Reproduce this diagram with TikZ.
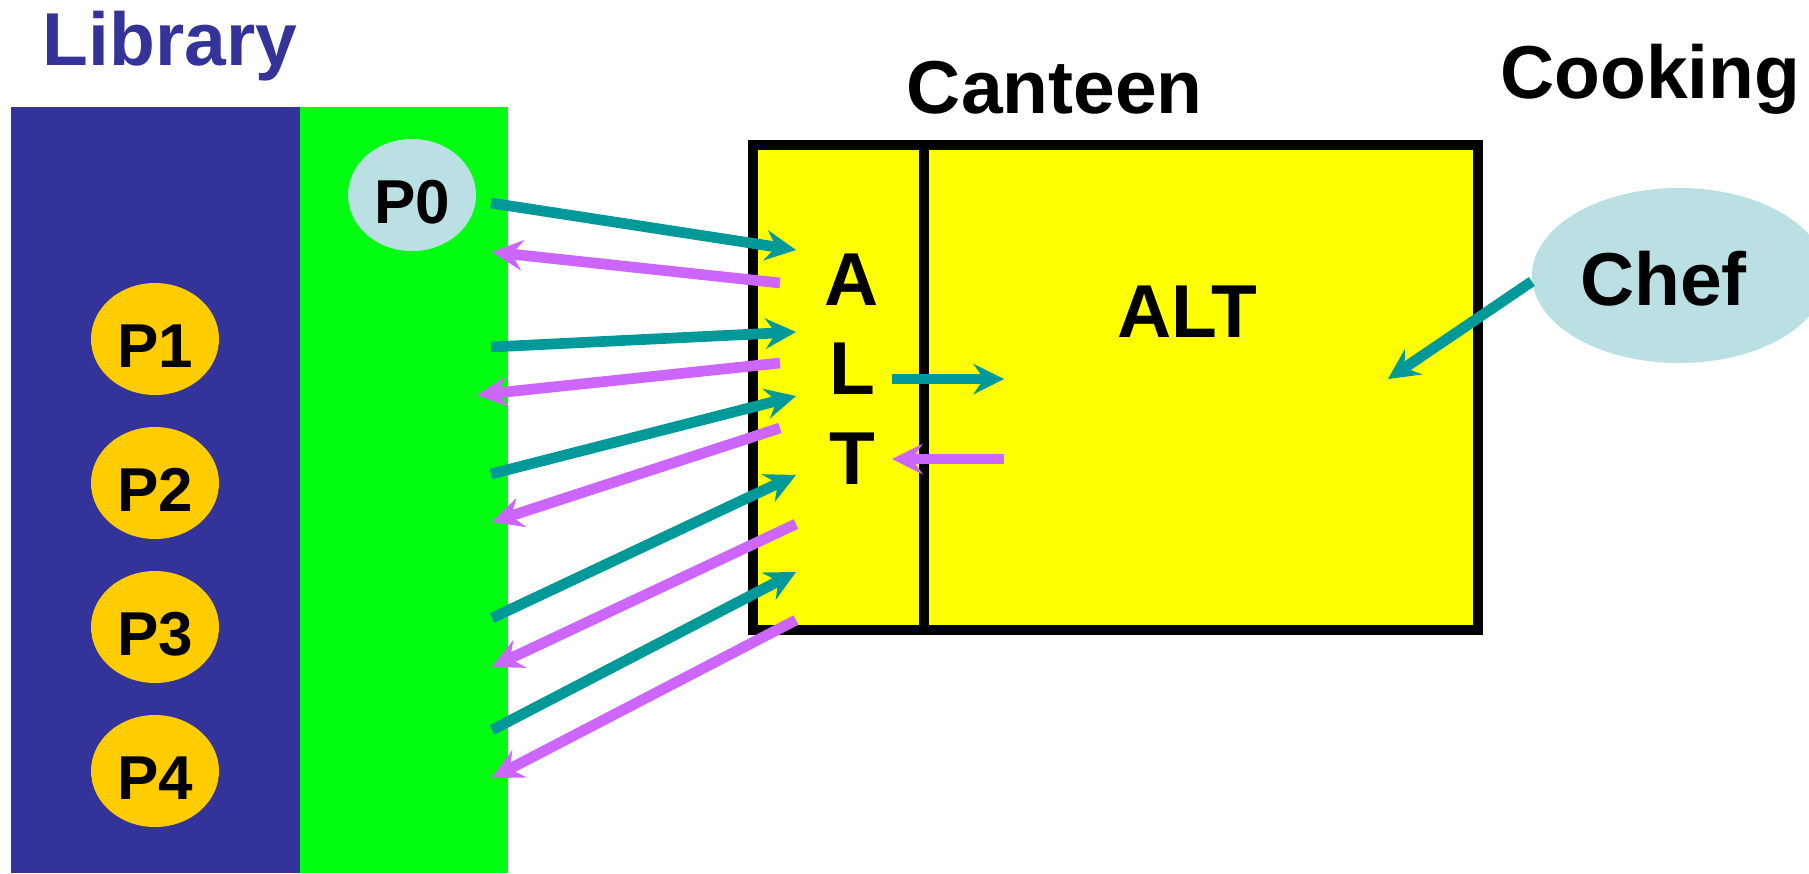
\documentclass[tikz,border=0pt]{standalone}
\usepackage{fontspec}
\setmainfont{Liberation Sans}
\usetikzlibrary{shapes.geometric,arrows.meta}

\definecolor{libblue}{HTML}{333399}
\definecolor{shelf}{HTML}{00FF11}
\definecolor{paleblue}{HTML}{BBE0E3}
\definecolor{gold}{HTML}{FFCC00}
\definecolor{canteenyellow}{HTML}{FFFF00}
\definecolor{tealc}{HTML}{009999}
\definecolor{lilac}{HTML}{CC66FF}

\newcommand{\bigfont}{\fontsize{75}{80}\selectfont\bfseries}
\newcommand{\pfont}{\fontsize{62}{66}\selectfont\bfseries}

\begin{document}
\begin{tikzpicture}[x=1pt, y=-1pt,
    >={Stealth[length=31pt, width=31pt, inset=11pt, line width=0pt]},
    proc/.style={ellipse, fill=gold, minimum width=128pt, minimum height=112pt,
        inner sep=0pt, text height=57pt, text depth=0pt, font=\pfont},
    title/.style={anchor=base west, inner sep=0pt, font=\bigfont},
    letter/.style={anchor=base, inner sep=0pt, font=\bigfont},
    req/.style={->, tealc, line width=10.7pt},
    rep/.style={->, lilac, line width=10.7pt}]
    \useasboundingbox (0,0) rectangle (1809,873);

    \fill[libblue] (11,107) rectangle (300,873);
    \fill[shelf] (300,107) rectangle (508,873);
    \node[title, libblue] (library) at (42.5,65.7) {Library};

    \node[proc, fill=paleblue] (p0) at (412,195) {P0};
    \node[proc] (p1) at (155,339) {P1};
    \node[proc] (p2) at (155,483) {P2};
    \node[proc] (p3) at (155,627) {P3};
    \node[proc] (p4) at (155,771) {P4};

    \filldraw[fill=canteenyellow, draw=black, line width=10.7pt] (753,145) rectangle (1478,630);
    \draw[line width=10.7pt] (924,145) -- (924,630);
    \node[title] (canteen) at (906.7,113) {Canteen};
    \node[title] (alt) at (1117,337) {ALT};
    \node[letter] (colA) at (852,305) {A};
    \node[letter] (colL) at (852,394) {L};
    \node[letter] (colT) at (852,484) {T};

    \node[title] (cooking) at (1500,98.3) {Cooking};
    \node[ellipse, fill=paleblue, minimum width=294pt, minimum height=175pt, inner sep=0pt]
        (chef) at (1679,275.5) {};
    \node[title] (cheflabel) at (1580,305) {Chef};

    \coordinate (l1) at (491,203);  \coordinate (r1) at (796,250);
    \coordinate (l2) at (492,252);  \coordinate (r2) at (780,283);
    \coordinate (l3) at (491,347);  \coordinate (r3) at (796,332);
    \coordinate (l4) at (477,395);  \coordinate (r4) at (780,363);
    \coordinate (l5) at (491,474);  \coordinate (r5) at (796,396);
    \coordinate (l6) at (492,522);  \coordinate (r6) at (780,428);
    \coordinate (l7) at (492,618);  \coordinate (r7) at (796,475);
    \coordinate (l8) at (492,667);  \coordinate (r8) at (796,524);
    \coordinate (l9) at (492,730);  \coordinate (r9) at (796,572);
    \coordinate (l10) at (492,778); \coordinate (r10) at (796,620);

    \draw[req] (l1) -- (r1);
    \draw[rep] (r2) -- (l2);
    \draw[req] (l3) -- (r3);
    \draw[rep] (r4) -- (l4);
    \draw[req] (l5) -- (r5);
    \draw[rep] (r6) -- (l6);
    \draw[req] (l7) -- (r7);
    \draw[rep] (r8) -- (l8);
    \draw[req] (l9) -- (r9);
    \draw[rep] (r10) -- (l10);

    \coordinate (inL) at (892,379);   \coordinate (inR) at (1004,379);
    \coordinate (outR) at (1004,459); \coordinate (outL) at (892,459);
    \draw[req] (inL) -- (inR);
    \draw[rep] (outR) -- (outL);

    \coordinate (cook) at (1388,379);
    \draw[req] ([yshift=-6pt]chef.west) -- (cook);
\end{tikzpicture}
\end{document}
